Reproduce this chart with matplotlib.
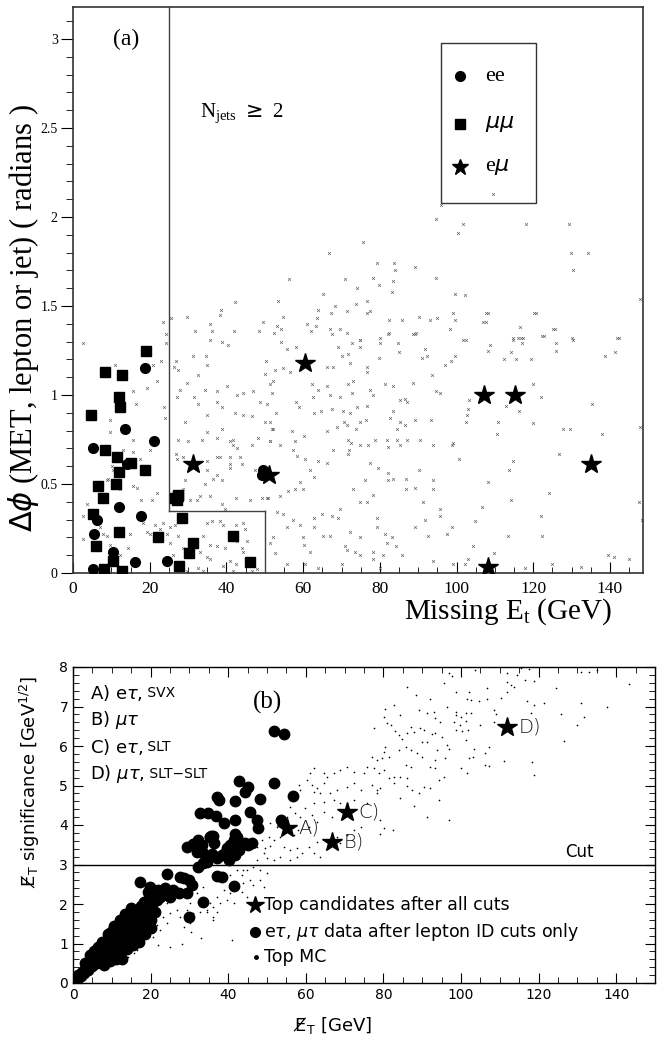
import numpy as np
import matplotlib
matplotlib.use("Agg")
import matplotlib.pyplot as plt
from matplotlib.patches import Rectangle
from matplotlib.ticker import MultipleLocator

SERIF = "Liberation Serif"
SANS = "DejaVu Sans"

# ---------------- panel (a): dilepton events ----------------
ee_x = [18.9, 13.5, 21.1, 5.1, 14.2, 11.9, 17.6, 6.3, 5.6, 10.5, 16.1, 24.4, 5.1,
        49.2, 49.9, 49.5, 50.1]
ee_y = [1.15, 0.81, 0.74, 0.70, 0.61, 0.37, 0.32, 0.30, 0.22, 0.12, 0.06, 0.07, 0.02,
        0.55, 0.57, 0.58, 0.55]

mumu_x = [19.0, 8.3, 12.8, 11.9, 12.3, 4.8, 8.3, 11.4, 15.0, 12.1, 18.7, 11.2, 6.5, 7.9,
          26.6, 27.4, 27.0, 27.3, 5.1, 28.4, 12.1, 22.2, 31.4, 41.8, 6.0, 30.3, 10.5,
          46.2, 27.6, 8.1, 12.8]
mumu_y = [1.25, 1.13, 1.11, 0.99, 0.93, 0.89, 0.69, 0.65, 0.62, 0.57, 0.58, 0.50, 0.49, 0.42,
          0.42, 0.44, 0.41, 0.43, 0.33, 0.31, 0.23, 0.20, 0.17, 0.21, 0.15, 0.11, 0.07,
          0.06, 0.04, 0.02, 0.01]

emu_x = [31.4, 51.2, 60.5, 107.2, 115.3, 135.1, 108.3]
emu_y = [0.61, 0.55, 1.18, 1.00, 1.00, 0.61, 0.035]

# top MC (Delta phi vs missing Et)
mc_top = [
    (109.6, 2.13), (96.0, 2.07), (94.7, 1.99), (101.8, 1.96), (100.4, 1.91), (118.1, 1.96),
    (129.4, 1.96), (134.3, 1.80), (129.8, 1.80), (130.3, 1.70), (75.7, 1.86), (66.8, 1.80),
    (79.2, 1.74), (83.7, 1.74), (83.9, 1.70), (89.2, 1.72), (94.7, 1.66), (78.3, 1.66),
    (79.9, 1.62), (83.4, 1.64), (83.2, 1.58), (70.8, 1.65), (74.1, 1.60), (56.4, 1.65),
    (42.3, 1.52), (38.7, 1.48), (38.3, 1.45), (29.6, 1.44), (25.5, 1.43), (23.5, 1.41),
    (24.2, 1.34), (31.8, 1.36), (36.2, 1.36), (35.7, 1.40), (42.0, 1.36), (48.4, 1.36),
    (49.5, 1.41), (53.4, 1.53), (53.3, 1.39), (52.4, 1.35), (54.8, 1.44), (54.1, 1.37),
    (60.9, 1.40), (62.0, 1.36), (63.4, 1.39), (63.5, 1.43), (64.0, 1.48), (65.3, 1.57),
    (68.4, 1.50), (67.2, 1.46), (67.0, 1.37), (67.5, 1.34), (69.6, 1.37), (71.4, 1.47),
    (71.4, 1.35), (73.8, 1.51), (76.6, 1.53), (76.6, 1.46), (77.4, 1.47), (82.5, 1.42),
    (82.3, 1.35), (85.8, 1.42), (88.7, 1.34), (89.4, 1.35), (90.1, 1.44), (93.1, 1.42),
    (94.8, 1.43), (98.3, 1.37), (99.0, 1.46), (99.7, 1.42), (99.5, 1.57), (102.3, 1.56),
    (107.0, 1.41), (108.3, 1.46), (116.6, 1.38), (120.2, 1.46), (125.2, 1.37), (122.3, 1.33),
    (130.1, 1.32), (141.8, 1.32), (147.7, 1.54), (114.8, 1.32), (116.9, 1.32), (101.8, 1.31),
    (74.7, 1.31), (80.1, 1.32),
    (58.1, 1.27), (55.9, 1.26), (54.2, 1.30), (50.3, 1.19), (50.1, 1.12), (52.7, 1.14),
    (54.7, 1.15), (56.6, 1.13), (52.2, 1.08), (51.8, 1.01), (50.5, 0.95), (52.9, 0.90),
    (50.1, 0.85), (52.1, 0.81), (57.0, 0.80), (51.4, 0.74), (54.0, 0.72), (57.9, 0.74),
    (60.1, 0.77), (58.3, 0.66), (60.5, 0.64), (57.4, 0.69), (62.2, 1.06), (64.0, 1.03),
    (66.3, 1.05), (67.0, 1.00), (62.5, 0.99), (69.6, 0.99), (58.1, 0.96), (59.0, 0.93),
    (62.7, 0.90), (64.6, 0.91), (67.5, 0.92), (70.5, 0.91), (72.2, 0.90), (74.8, 0.85),
    (76.4, 0.86), (70.7, 0.85), (71.5, 0.83), (66.1, 0.80), (68.9, 0.82), (73.8, 0.81),
    (71.8, 0.75), (72.4, 0.73), (74.8, 0.72), (77.0, 0.72), (78.7, 0.75), (67.9, 0.69),
    (72.0, 0.69), (71.8, 0.67), (66.1, 0.62), (63.8, 0.63), (61.8, 0.58), (62.7, 0.54),
    (59.2, 0.51), (59.9, 0.47), (57.9, 0.47), (56.1, 0.46), (54.0, 0.43), (50.5, 0.42),
    (53.1, 0.34), (54.8, 0.33), (57.4, 0.30), (55.9, 0.26), (59.2, 0.27), (62.7, 0.31),
    (64.9, 0.33), (67.5, 0.32), (69.2, 0.31), (62.7, 0.26), (65.3, 0.21), (67.0, 0.21),
    (59.9, 0.20), (60.1, 0.16), (61.8, 0.12), (52.2, 0.20), (51.4, 0.17), (52.7, 0.11),
    (55.7, 0.05), (60.5, 0.05), (64.0, 0.03), (70.1, 0.05), (70.9, 0.15), (71.5, 0.13),
    (73.5, 0.12), (74.8, 0.10), (69.6, 0.36), (73.1, 0.47), (74.8, 0.40), (76.6, 0.40),
    (78.3, 0.44), (79.2, 0.31), (79.6, 0.59), (77.4, 0.62), (76.1, 0.52), (82.2, 0.56),
    (82.2, 0.52), (83.5, 0.53), (86.9, 0.53), (86.9, 0.47), (89.2, 0.48), (82.2, 0.71),
    (81.8, 0.75), (84.4, 0.75), (85.3, 0.72), (87.0, 0.75), (90.5, 0.75), (93.9, 0.72),
    (98.7, 0.72), (100.7, 0.64), (93.9, 0.52), (90.1, 0.58), (91.3, 0.40), (95.7, 0.36),
    (91.8, 0.30), (89.2, 0.26), (92.6, 0.21), (98.7, 0.26), (81.4, 0.22), (83.1, 0.20),
    (84.2, 0.15), (81.8, 0.17), (80.9, 0.10), (85.7, 0.10), (78.3, 0.12), (74.8, 0.20),
    (72.2, 0.23), (93.8, 0.07), (80.1, 0.03), (85.3, 0.85), (82.7, 0.87), (84.4, 0.81),
    (86.6, 0.83), (89.2, 0.86), (93.3, 0.86), (85.3, 0.97), (86.6, 0.98), (87.0, 0.96),
    (83.5, 1.05), (81.4, 1.06), (77.4, 1.03), (78.3, 1.00), (76.6, 0.94), (74.0, 0.93),
    (72.7, 1.01), (73.1, 1.08), (71.8, 1.06), (76.6, 1.16), (76.6, 1.13), (72.2, 1.18),
    (70.1, 1.22), (71.8, 1.23), (67.9, 1.16), (66.1, 1.16), (72.7, 1.29), (74.8, 1.31),
    (74.8, 1.27), (69.2, 1.27), (82.2, 1.34), (79.9, 1.21), (80.1, 1.29), (84.8, 1.29),
    (85.1, 1.24), (89.2, 1.34), (91.8, 1.26), (90.9, 1.21), (92.2, 1.22), (88.7, 1.07),
    (83.5, 0.91), (93.5, 1.11), (94.7, 1.02), (95.7, 1.01), (97.1, 1.17), (98.5, 1.19),
    (99.6, 1.22), (99.0, 0.73), (93.8, 0.47), (95.7, 0.32), (97.4, 0.22), (79.2, 0.26),
    (78.3, 0.08), (99.1, 0.05),
    (102.5, 1.31), (108.1, 1.25), (108.6, 1.28), (107.7, 1.41), (107.7, 1.46), (114.7, 1.31),
    (116.0, 1.32), (117.3, 1.32), (117.1, 1.29), (114.3, 1.24), (112.3, 1.20), (115.6, 1.20),
    (119.5, 1.20), (120.6, 1.46), (122.9, 1.33), (125.8, 1.29), (125.8, 1.25), (125.6, 1.37),
    (130.4, 1.31), (138.8, 1.22), (141.2, 1.24), (142.4, 1.32), (119.9, 1.06), (122.0, 0.99),
    (103.3, 0.97), (103.1, 0.92), (102.7, 0.89), (102.4, 0.85), (110.8, 0.85), (110.6, 0.78),
    (116.2, 0.91), (112.9, 0.94), (119.8, 0.84), (127.8, 0.81), (129.6, 0.81), (135.3, 0.95),
    (137.8, 0.78), (147.9, 0.82), (126.7, 0.67), (114.7, 0.63), (113.6, 0.58), (108.3, 0.51),
    (114.3, 0.41), (124.1, 0.45), (122.0, 0.32), (122.3, 0.21), (113.4, 0.21), (106.6, 0.37),
    (104.2, 0.15), (104.9, 0.29), (102.9, 0.08), (109.7, 0.11), (147.5, 0.40), (148.4, 0.30),
    (139.6, 0.10), (141.0, 0.09), (144.9, 0.08), (132.5, 0.035), (117.8, 0.03), (124.8, 0.05),
    (102.2, 0.05),
    (2.7, 1.29), (11.0, 1.17), (15.7, 1.02), (19.4, 1.04), (16.4, 0.95), (20.9, 1.17),
    (22.9, 1.19), (22.0, 1.08), (23.7, 0.93), (24.2, 1.29), (24.1, 0.87), (9.6, 0.86),
    (9.6, 0.79), (15.7, 0.75), (13.1, 0.69), (15.7, 0.68), (17.5, 0.64), (20.1, 0.69),
    (10.1, 0.60), (10.5, 0.58), (15.7, 0.49), (16.6, 0.48), (22.0, 0.45), (17.6, 0.41),
    (20.5, 0.41), (3.6, 0.39), (2.7, 0.32), (8.8, 0.52), (9.2, 0.53), (12.3, 0.47),
    (7.0, 0.26), (7.9, 0.22), (8.8, 0.21), (2.7, 0.19), (9.6, 0.16), (12.3, 0.10),
    (14.4, 0.14), (14.9, 0.22), (20.1, 0.22), (18.3, 0.28), (19.4, 0.23), (21.4, 0.27),
    (23.5, 0.28), (22.7, 0.25), (25.3, 0.26), (26.6, 0.27), (24.4, 0.22), (27.5, 0.21),
    (25.3, 0.17), (28.8, 0.14), (26.2, 0.10), (34.0, 0.21), (34.9, 0.28), (36.2, 0.29),
    (38.3, 0.29), (39.2, 0.27), (35.7, 0.16), (37.5, 0.15), (39.6, 0.14), (34.9, 0.09),
    (35.7, 0.08), (33.1, 0.12), (32.7, 0.03), (34.0, 0.01), (40.9, 0.07), (42.7, 0.18),
    (44.0, 0.14), (44.4, 0.12), (45.3, 0.18), (44.8, 0.25), (42.5, 0.27), (44.4, 0.28),
    (46.6, 0.01), (41.8, 0.01), (47.9, 0.02), (42.5, 0.05), (29.6, 0.01), (39.2, 0.04),
    (26.9, 1.19), (27.5, 1.14), (26.3, 1.16), (31.4, 1.22), (34.7, 1.22), (35.7, 1.31),
    (38.8, 1.30), (40.5, 1.28), (34.9, 1.17), (32.7, 1.11), (29.6, 1.07), (27.9, 1.03),
    (27.0, 0.99), (31.6, 0.99), (34.4, 1.03), (37.5, 1.02), (40.1, 1.05), (44.4, 1.01),
    (42.7, 1.00), (46.9, 1.02), (37.5, 0.96), (38.8, 0.93), (32.7, 0.95), (34.9, 0.89),
    (29.2, 0.85), (42.2, 0.90), (44.4, 0.89), (46.6, 0.88), (48.8, 0.96), (51.4, 1.06),
    (38.8, 0.81), (37.5, 0.76), (34.9, 0.79), (33.6, 0.75), (30.1, 0.74), (27.5, 0.75),
    (40.8, 0.74), (41.8, 0.75), (41.6, 0.72), (42.7, 0.70), (46.6, 0.72), (48.3, 0.76),
    (51.4, 0.74), (51.8, 0.81), (51.4, 0.85), (27.0, 0.64), (26.9, 0.67), (28.6, 0.65),
    (34.9, 0.63), (37.5, 0.65), (38.3, 0.65), (40.8, 0.65), (44.0, 0.61), (43.5, 0.65),
    (37.5, 0.55), (36.6, 0.53), (38.8, 0.52), (34.9, 0.58), (34.4, 0.50), (40.9, 0.61),
    (40.9, 0.59), (33.1, 0.43), (32.3, 0.41), (30.5, 0.41), (35.7, 0.43), (38.8, 0.39),
    (39.5, 0.36), (42.5, 0.42), (46.2, 0.41), (49.2, 0.42), (50.9, 0.42), (47.5, 0.58),
    (29.2, 0.52), (28.6, 0.47),
]

# ---------------- panel (b): missing Et significance ----------------
cand_x = [55.1, 66.8, 70.6, 111.9]
cand_y = [3.92, 3.58, 4.34, 6.49]
cand_lbl = ["A)", "B)", "C)", "D)"]

tau_x = [
    0.5, 1.0, 1.5, 1.2, 2.0, 2.2, 2.8, 3.0, 3.3, 3.8, 4.0, 4.3, 4.8, 5.0, 5.2, 5.6, 6.0, 6.2,
    6.5, 6.8, 7.0, 7.3, 7.5, 7.8, 8.0, 8.2, 8.5, 8.8, 9.0, 9.2, 9.5, 9.8, 10.0, 10.2, 10.5,
    10.8, 11.0, 11.2, 11.5, 11.8, 12.0, 12.3, 12.5, 12.8, 13.0, 13.3, 13.6, 14.0, 14.3, 14.6,
    15.0, 15.3, 15.6, 16.0, 16.3, 16.7, 17.0, 17.3, 17.6, 18.0, 18.4, 18.8, 19.2, 19.6, 20.0,
    20.4, 20.8, 21.2, 21.7, 22.0,
    6.5, 7.5, 9.0, 10.5, 12.0, 13.5, 15.0, 11.0, 12.5, 14.0, 15.5, 17.0, 18.5, 20.0, 4.5,
    5.5, 8.0, 9.5, 3.0, 13.0, 16.0, 18.0, 14.5, 11.8, 9.8,
    17.3, 19.9, 19.4, 21.6, 23.7, 25.9, 27.2, 29.3, 25.0, 22.5, 20.3, 19.0, 24.2, 28.5, 29.8,
    16.4, 33.6, 29.8, 32.3, 37.1, 38.4, 41.4, 27.6, 30.6, 23.0,
    29.3, 30.9, 32.3, 33.2, 31.9, 33.6, 34.5, 35.4, 36.2, 36.4, 35.8, 37.1, 38.4, 39.7, 40.5,
    41.4, 42.2, 43.1, 44.4, 45.2, 46.1, 42.7, 41.8, 39.2, 40.1, 34.5, 33.6,
    35.2, 35.6, 41.8,
    32.8, 34.9, 36.9, 38.9, 41.8, 45.7, 47.4, 47.6, 53.6, 37.1, 37.6, 41.8, 48.3,
    42.7, 45.2, 44.4, 51.7, 56.7, 51.7, 54.5,
]
tau_y = [
    0.05, 0.10, 0.15, 0.20, 0.18, 0.28, 0.25, 0.35, 0.40, 0.32, 0.45, 0.55, 0.50, 0.42, 0.62,
    0.58, 0.70, 0.50, 0.65, 0.78, 0.60, 0.72, 0.85, 0.55, 0.80, 0.95, 0.70, 0.88, 1.00, 0.75,
    1.10, 0.90, 1.20, 0.85, 1.05, 1.30, 0.95, 1.15, 1.35, 1.05, 1.25, 0.80, 1.45, 1.10, 1.30,
    1.55, 1.00, 1.40, 1.20, 1.65, 1.50, 1.10, 1.75, 1.35, 1.60, 1.85, 1.25, 1.50, 1.95, 1.70,
    2.05, 1.45, 1.85, 2.15, 1.60, 2.00, 2.25, 1.80, 2.10, 2.35,
    0.90, 1.05, 1.25, 1.45, 1.60, 1.75, 1.90, 0.60, 0.60, 0.85, 0.95, 1.05, 1.25, 1.40, 0.70,
    0.80, 0.45, 0.55, 0.50, 0.90, 1.15, 1.50, 1.00, 1.50, 1.30,
    2.56, 2.44, 2.31, 2.31, 2.40, 2.35, 2.29, 2.27, 2.18, 2.18, 2.10, 2.02, 2.76, 2.65, 2.61,
    1.85, 2.06, 1.66, 2.93, 2.71, 2.69, 2.46, 2.69, 2.48, 2.22,
    3.45, 3.52, 3.62, 3.49, 3.32, 3.28, 3.20, 3.70, 3.72, 3.54, 3.27, 3.16, 3.24, 3.41, 3.49,
    3.62, 3.70, 3.49, 3.54, 3.49, 3.54, 3.37, 3.24, 3.28, 3.11, 3.07, 3.03,
    3.70, 3.72, 3.76,
    4.30, 4.30, 4.24, 4.06, 4.13, 4.32, 4.13, 3.92, 4.13, 4.72, 4.63, 4.62, 4.65,
    5.11, 4.97, 4.84, 5.06, 4.73, 6.39, 6.30,
]

mc_bot = [
    (96.9, 7.84), (97.7, 7.77), (103.7, 7.92), (111.9, 7.84), (114.5, 7.80), (115.4, 7.98),
    (117.5, 7.95), (116.6, 7.67), (118.8, 7.65), (112.8, 7.54), (113.6, 7.50), (111.9, 7.63),
    (130.8, 7.88), (133.0, 7.88), (135.1, 7.92), (143.3, 7.57), (124.4, 7.46), (95.6, 7.59),
    (86.1, 7.50), (88.3, 7.29), (98.6, 7.37), (102.0, 7.37), (106.8, 7.46), (111.9, 7.37),
    (92.1, 7.18), (101.6, 7.18), (102.5, 7.16), (104.6, 7.15), (106.8, 7.18), (110.2, 7.21),
    (117.1, 7.15), (118.8, 7.04), (121.4, 7.10), (130.8, 7.08), (137.7, 6.98), (82.7, 7.04),
    (80.5, 6.93), (89.1, 6.91), (93.0, 6.87), (96.4, 6.99), (98.6, 6.87), (98.8, 6.78),
    (100.1, 6.73), (101.4, 6.83), (102.5, 6.83), (108.5, 6.91), (108.9, 6.81), (118.1, 6.83),
    (125.7, 6.81), (131.7, 6.74), (80.1, 6.74), (84.4, 6.78), (91.3, 6.83), (93.4, 6.70),
    (94.7, 6.62), (80.9, 6.59), (82.0, 6.53), (87.0, 6.49), (89.5, 6.45), (98.1, 6.62),
    (99.7, 6.53), (101.2, 6.64), (98.6, 6.41), (100.3, 6.39), (101.8, 6.41), (105.0, 6.53),
    (108.5, 6.62), (77.5, 6.45), (83.1, 6.39), (84.0, 6.28), (84.8, 6.17), (86.1, 6.32),
    (87.8, 6.36), (90.4, 6.41), (92.6, 6.30), (93.4, 6.32), (95.1, 6.24), (96.4, 6.03),
    (101.2, 6.15), (107.2, 5.97), (126.5, 6.13), (130.0, 6.53), (80.5, 5.98), (80.1, 5.86),
    (84.0, 5.90), (85.9, 5.97), (87.0, 5.90), (88.7, 5.82), (90.0, 6.11), (91.3, 6.11),
    (93.9, 5.90), (96.9, 5.92), (103.3, 5.92), (106.3, 5.82), (77.1, 5.73), (78.4, 5.65),
    (79.7, 5.69), (81.4, 5.73), (85.7, 5.52), (87.0, 5.48), (90.0, 5.73), (93.4, 5.65),
    (96.0, 5.69), (102.0, 5.69), (103.2, 5.73), (106.3, 5.52), (107.2, 5.49), (111.0, 5.63),
    (118.4, 5.60), (118.8, 5.27), (99.9, 5.44), (101.6, 5.31), (93.4, 5.44), (92.1, 5.48),
    (77.5, 5.44), (80.1, 5.39), (78.8, 5.31), (81.4, 5.18), (82.7, 5.21), (84.4, 5.22),
    (86.1, 5.18), (94.3, 5.14), (95.6, 5.22), (82.7, 5.06), (86.1, 4.99), (87.4, 4.89),
    (89.1, 4.82), (90.4, 4.97), (92.1, 4.93), (79.2, 4.93), (78.4, 4.82), (84.2, 4.68),
    (87.8, 4.48), (94.3, 4.63), (91.3, 4.21), (96.9, 4.13), (79.2, 4.13), (80.1, 3.92),
    (79.2, 3.77), (82.5, 3.87),
    (60.3, 5.14), (61.6, 5.01), (62.9, 4.93), (62.0, 4.84), (63.7, 4.80), (64.6, 5.06),
    (65.5, 5.22), (67.2, 5.31), (68.9, 5.39), (70.6, 5.48), (72.3, 5.35), (74.9, 5.31),
    (75.8, 5.48), (66.3, 4.80), (68.1, 4.89), (70.6, 4.97), (72.3, 5.06), (74.1, 4.89),
    (77.1, 5.01), (78.4, 4.89), (64.6, 4.59), (67.2, 4.63), (68.9, 4.55), (72.3, 4.63),
    (75.8, 4.55), (62.0, 4.55), (59.9, 4.42), (57.3, 4.30), (55.1, 4.21), (58.6, 4.21),
    (61.6, 4.25), (64.6, 4.34), (66.8, 4.21), (62.9, 4.08), (60.7, 3.96), (58.1, 3.87),
    (56.9, 3.75), (53.4, 3.70), (52.6, 3.96), (51.7, 3.62), (50.8, 3.47), (49.5, 3.41),
    (49.1, 3.28), (47.4, 3.45), (48.7, 3.62), (54.3, 3.45), (56.0, 3.37), (57.7, 3.41),
    (59.0, 3.28), (60.7, 3.45), (62.9, 3.58), (68.1, 3.70), (68.9, 3.54), (70.6, 3.75),
    (72.3, 3.87), (74.1, 3.96), (62.0, 3.28), (63.7, 3.20), (57.7, 3.20), (53.4, 3.20),
    (51.7, 3.11), (56.0, 3.11), (50.0, 3.16), (47.4, 3.11), (46.5, 2.94), (48.3, 2.86),
    (50.0, 2.78), (44.8, 2.86), (43.5, 2.73), (45.7, 2.61), (43.9, 2.52), (46.5, 2.48),
    (48.3, 2.61), (49.1, 2.44), (42.2, 2.44), (40.5, 2.27), (43.5, 2.31), (44.8, 2.18),
    (39.7, 2.10), (37.9, 2.02), (36.2, 1.93), (34.5, 1.85), (32.8, 1.81), (37.1, 1.81),
    (31.0, 1.68), (30.2, 1.51), (28.5, 1.43), (41.4, 2.02), (43.9, 2.86), (40.5, 2.73),
    (42.2, 2.86), (50.4, 3.70), (50.8, 4.04), (57.3, 4.72), (58.6, 4.89), (56.0, 4.46),
    (53.4, 4.04), (64.6, 5.31), (61.2, 5.31), (62.0, 5.44), (58.3, 5.02),
    (19.0, 1.34), (21.6, 1.47), (23.3, 1.68), (25.0, 1.76), (26.8, 1.85), (22.5, 1.34),
    (20.7, 1.17), (18.1, 1.00), (16.4, 0.84), (15.6, 0.75), (14.3, 0.67), (13.0, 0.50),
    (19.9, 1.68), (25.9, 2.10), (24.2, 2.02), (27.6, 2.18), (30.2, 2.02), (31.9, 2.27),
    (33.6, 2.44), (29.3, 1.85), (31.0, 1.76), (27.6, 1.68), (24.2, 1.51), (20.7, 1.34),
    (35.4, 2.02), (37.1, 2.18), (38.8, 2.35), (36.2, 1.68), (34.5, 1.81), (36.0, 1.60),
    (33.0, 1.15), (30.5, 1.30), (28.0, 1.00), (25.0, 0.90), (22.0, 0.95), (41.0, 1.10),
]

mc_top = np.array(mc_top)
mc_bot = np.array(mc_bot)

fig = plt.figure(figsize=(6.62, 10.4), dpi=100)

# ---------- (a) ----------
ax1 = fig.add_axes([73 / 662, 1 - 573 / 1040, 570 / 662, 566 / 1040])
ax1.set_xlim(0, 148.6)
ax1.set_ylim(0, 3.18)

ax1.plot(mc_top[:, 0], mc_top[:, 1], ls="none", marker="x", ms=2.0, mew=0.5,
         color="0.4", zorder=2)

# region cuts
ax1.plot([25, 25], [0.35, 3.18], color="0.25", lw=1.0, zorder=3)
ax1.plot([25, 50], [0.35, 0.35], color="0.25", lw=1.0, zorder=3)
ax1.plot([50, 50], [0, 0.35], color="0.25", lw=1.0, zorder=3)

ax1.plot(ee_x, ee_y, ls="none", marker="o", ms=7, color="black", zorder=4)
ax1.plot(mumu_x, mumu_y, ls="none", marker="s", ms=6.5, color="black", zorder=4)
ax1.plot(emu_x, emu_y, ls="none", marker="*", ms=15, color="black", zorder=5)

# legend box
ax1.add_patch(Rectangle((96, 2.08), 24.7, 0.9, fill=False, ec="0.2", lw=1.0, zorder=5))
ax1.plot([100.9], [2.79], marker="o", ms=7, color="black")
ax1.plot([100.9], [2.52], marker="s", ms=6.5, color="black")
ax1.plot([100.9], [2.28], marker="*", ms=12, color="black")
ax1.text(107.5, 2.79, "ee", family=SERIF, fontsize=16, va="center")
ax1.text(107.5, 2.52, r"$\mu\mu$", fontsize=16, va="center")
ax1.text(107.5, 2.28, r"e$\mu$", family=SERIF, fontsize=16, va="center")

ax1.text(13.8, 3.0, "(a)", family=SERIF, fontsize=17, va="center", ha="center")
ax1.text(33, 2.58, r"N$_{\mathregular{jets}}$ $\geq$ 2", family=SERIF, fontsize=15, va="center")

ax1.xaxis.set_major_locator(MultipleLocator(20))
ax1.xaxis.set_minor_locator(MultipleLocator(5))
ax1.yaxis.set_minor_locator(MultipleLocator(0.1))
ax1.tick_params(axis="x", which="both", direction="in", top=False, pad=6)
ax1.tick_params(axis="x", which="major", length=8)
ax1.tick_params(axis="x", which="minor", length=4)
ax1.tick_params(axis="y", which="both", direction="out", right=False, pad=2)
ax1.tick_params(axis="y", which="major", length=9)
ax1.tick_params(axis="y", which="minor", length=5)
ax1.set_yticks([0, 0.5, 1, 1.5, 2, 2.5, 3])
ax1.set_yticklabels(["0", "0.5", "1", "1.5", "2", "2.5", "3"], family=SERIF, fontsize=10)
ax1.set_xticks([0, 20, 40, 60, 80, 100, 120, 140])
ax1.set_xticklabels(["0", "20", "40", "60", "80", "100", "120", "140"], family=SERIF,
                    fontsize=12.5)
for sp in ax1.spines.values():
    sp.set_linewidth(1.2)
    sp.set_color("0.2")

fig.text(24 / 662, 1 - 318 / 1040, r"$\Delta\phi$ (MET, lepton or jet) ( radians )",
         family=SERIF, fontsize=22, rotation=90, ha="center", va="center")
fig.text(612 / 662, 1 - 612 / 1040, r"Missing E$_{\mathregular{t}}$ (GeV)",
         family=SERIF, fontsize=21, ha="right", va="center")

# ---------- (b) ----------
ax2 = fig.add_axes([73 / 662, 1 - 983 / 1040, 582 / 662, 316 / 1040])
ax2.set_xlim(0, 150)
ax2.set_ylim(0, 8)

ax2.plot(mc_bot[:, 0], mc_bot[:, 1], ls="none", marker="o", ms=1.2, mew=0,
         color="black", zorder=2)
ax2.plot(tau_x, tau_y, ls="none", marker="o", ms=7.5, color="black", zorder=3)
ax2.plot(cand_x, cand_y, ls="none", marker="*", ms=15, color="black", zorder=4)
for x, y, s in zip(cand_x, cand_y, cand_lbl):
    ax2.text(x + 3.0, y, s, family=SANS, fontsize=14, va="center", color="0.1",
             fontweight="light")

ax2.axhline(3, color="black", lw=1.0, zorder=1)
ax2.text(130.5, 3.1, "Cut", family=SANS, fontsize=12, va="bottom", ha="center")
ax2.text(50, 7.1, "(b)", family=SERIF, fontsize=18, va="center", ha="center")

# channel list
chan_main = [r"A) e$\tau$,", r"B) $\mu\tau$", r"C) e$\tau$,", r"D) $\mu\tau$,"]
chan_sub = ["SVX", "", "SLT", "SLT\u2212SLT"]
chan_y = [7.34, 6.66, 5.97, 5.30]
for m, s, y in zip(chan_main, chan_sub, chan_y):
    t = ax2.text(4.4, y, m, family=SANS, fontsize=13, va="center")
    if s:
        ax2.annotate(" " + s, xy=(1, 0.5), xycoords=t, family=SANS, fontsize=10,
                     va="center", ha="left")

# symbol key
ax2.plot([46.8], [1.97], marker="*", ms=13, color="black")
ax2.plot([47.0], [1.30], marker="o", ms=7, color="black")
ax2.plot([47.2], [0.67], marker="o", ms=2.5, color="black")
ax2.text(49.3, 1.97, "Top candidates after all cuts", family=SANS, fontsize=12.5, va="center")
ax2.text(49.3, 1.30, r"e$\tau$, $\mu\tau$ data after lepton ID cuts only", family=SANS,
         fontsize=12.5, va="center")
ax2.text(49.3, 0.67, "Top MC", family=SANS, fontsize=12.5, va="center")

ax2.xaxis.set_major_locator(MultipleLocator(20))
ax2.xaxis.set_minor_locator(MultipleLocator(5))
ax2.yaxis.set_major_locator(MultipleLocator(1))
ax2.yaxis.set_minor_locator(MultipleLocator(0.2))
ax2.tick_params(axis="both", which="both", direction="in", top=True, right=True,
                labelsize=10)
ax2.tick_params(axis="both", which="major", length=7)
ax2.tick_params(axis="both", which="minor", length=4)
for sp in ax2.spines.values():
    sp.set_linewidth(1.0)

fig.text(30 / 662, 1 - 782 / 1040,
         "E\u0338$_\\mathregular{T}$ significance [GeV$^{\\mathregular{1/2}}$]",
         family=SANS, fontsize=13, rotation=90, ha="center", va="center")
fig.text(333 / 662, 1 - 1026 / 1040, "E\u0338$_\\mathregular{T}$ [GeV]",
         family=SANS, fontsize=13, ha="center", va="center")

fig.savefig("out.png", dpi=100)
